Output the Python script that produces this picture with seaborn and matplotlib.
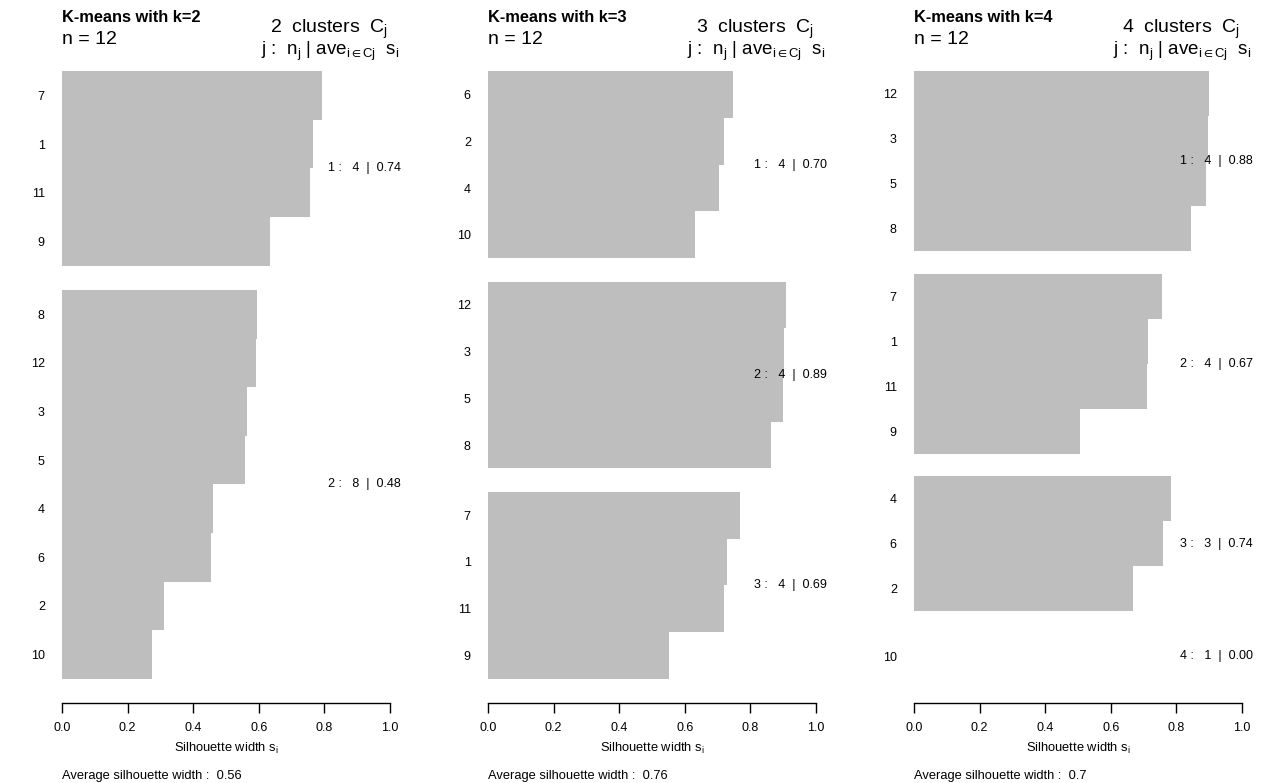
import matplotlib
matplotlib.use("Agg")
import matplotlib.pyplot as plt
import seaborn as sns
import numpy as np
import pandas as pd

# silhouette data for each k-means run (top to bottom order within each plot)
k2_obs = [7, 1, 11, 9, 8, 12, 3, 5, 4, 6, 2, 10]
k2_cluster = [1, 1, 1, 1, 2, 2, 2, 2, 2, 2, 2, 2]
k2_sil = [0.793, 0.765, 0.756, 0.634, 0.595, 0.590, 0.564, 0.558, 0.460, 0.454, 0.311, 0.274]

k3_obs = [6, 2, 4, 10, 12, 3, 5, 8, 7, 1, 11, 9]
k3_cluster = [1, 1, 1, 1, 2, 2, 2, 2, 3, 3, 3, 3]
k3_sil = [0.747, 0.720, 0.704, 0.631, 0.909, 0.902, 0.899, 0.863, 0.768, 0.730, 0.720, 0.552]

k4_obs = [12, 3, 5, 8, 7, 1, 11, 9, 4, 6, 2, 10]
k4_cluster = [1, 1, 1, 1, 2, 2, 2, 2, 3, 3, 3, 4]
k4_sil = [0.899, 0.896, 0.890, 0.845, 0.756, 0.713, 0.710, 0.506, 0.784, 0.759, 0.668, 0.0]

runs = [(2, k2_obs, k2_cluster, k2_sil, "0.56"),
        (3, k3_obs, k3_cluster, k3_sil, "0.76"),
        (4, k4_obs, k4_cluster, k4_sil, "0.7")]

sns.set_style("white")
plt.rcParams['font.family'] = ['Liberation Sans', 'DejaVu Sans']
plt.rcParams['mathtext.fontset'] = 'custom'
plt.rcParams['mathtext.rm'] = 'Liberation Sans'
plt.rcParams['mathtext.it'] = 'Liberation Sans'
plt.rcParams['mathtext.default'] = 'regular'
plt.rcParams['text.color'] = 'black'
plt.rcParams['xtick.color'] = 'black'
plt.rcParams['ytick.color'] = 'black'

W, H = 1262, 783
fig = plt.figure(figsize=(W / 100, H / 100), dpi=100)


def px(x, y):
    return x / W, 1 - y / H


for i, (k, obs, clus, sil, avg) in enumerate(runs):
    off = 426 * i
    ax = fig.add_axes([(49 + off) / W, (H - 703) / H, 354 / W, 656 / H])

    # bar positions with half-bar gaps between clusters
    pos = []
    cur = 0.0
    prev = clus[0]
    for c in clus:
        if c != prev:
            cur += 0.5
            prev = c
        pos.append(cur + 0.5)
        cur += 1
    total = cur
    df = pd.DataFrame({"sil": sil, "pos": pos, "obs": obs, "cluster": clus})

    sns.barplot(data=df, x="sil", y="pos", orient="h", native_scale=True,
                color="#bebebe", saturation=1, width=1, linewidth=0, ax=ax)

    ax.set_xlim(-0.04, 1.04)
    ax.set_ylim(total * 1.04, -total * 0.04)
    ax.set_yticks(pos)
    ax.set_yticklabels([str(o) for o in obs], fontsize=9)
    ax.set_xticks([0, 0.2, 0.4, 0.6, 0.8, 1.0])
    ax.set_xticklabels(["0.0", "0.2", "0.4", "0.6", "0.8", "1.0"], fontsize=9)
    ax.tick_params(axis="y", left=False, length=0, pad=3)
    ax.tick_params(axis="x", bottom=True, length=7, width=1, pad=7,
                   direction="out", color="black")
    for s in ["top", "right", "left"]:
        ax.spines[s].set_visible(False)
    ax.spines["bottom"].set_bounds(0, 1)
    ax.spines["bottom"].set_color("black")
    ax.spines["bottom"].set_linewidth(1)
    ax.set_xlabel("")
    ax.set_ylabel("")

    # cluster summaries
    for c in sorted(set(clus)):
        sub = df[df["cluster"] == c]
        yc = sub["pos"].mean()
        n_j = len(sub)
        ave = sub["sil"].mean()
        ax.text(0.81, yc, f"{c} :   {n_j}  |  {ave:.2f}", fontsize=9,
                ha="left", va="center")

    fig.text(*px(62 + off, 22), f"K-means with k={k}", fontsize=11.8,
             fontweight="bold", ha="left", va="baseline")
    fig.text(*px(62 + off, 44), "n = 12", fontsize=14, ha="left", va="baseline")
    fig.text(*px(388 + off, 33), f"{k}  clusters  C$_j$", fontsize=14,
             ha="right", va="baseline")
    fig.text(*px(399 + off, 55), r"j :  n$_j$ | ave$_{i\in Cj}$  s$_i$",
             fontsize=13.5, ha="right", va="baseline")
    fig.text(*px(226 + off, 752), "Silhouette width s$_i$", fontsize=9.3,
             ha="center", va="baseline")
    fig.text(*px(62 + off, 779), f"Average silhouette width :  {avg}",
             fontsize=9.3, ha="left", va="baseline")

fig.savefig("out.png", dpi=100)
